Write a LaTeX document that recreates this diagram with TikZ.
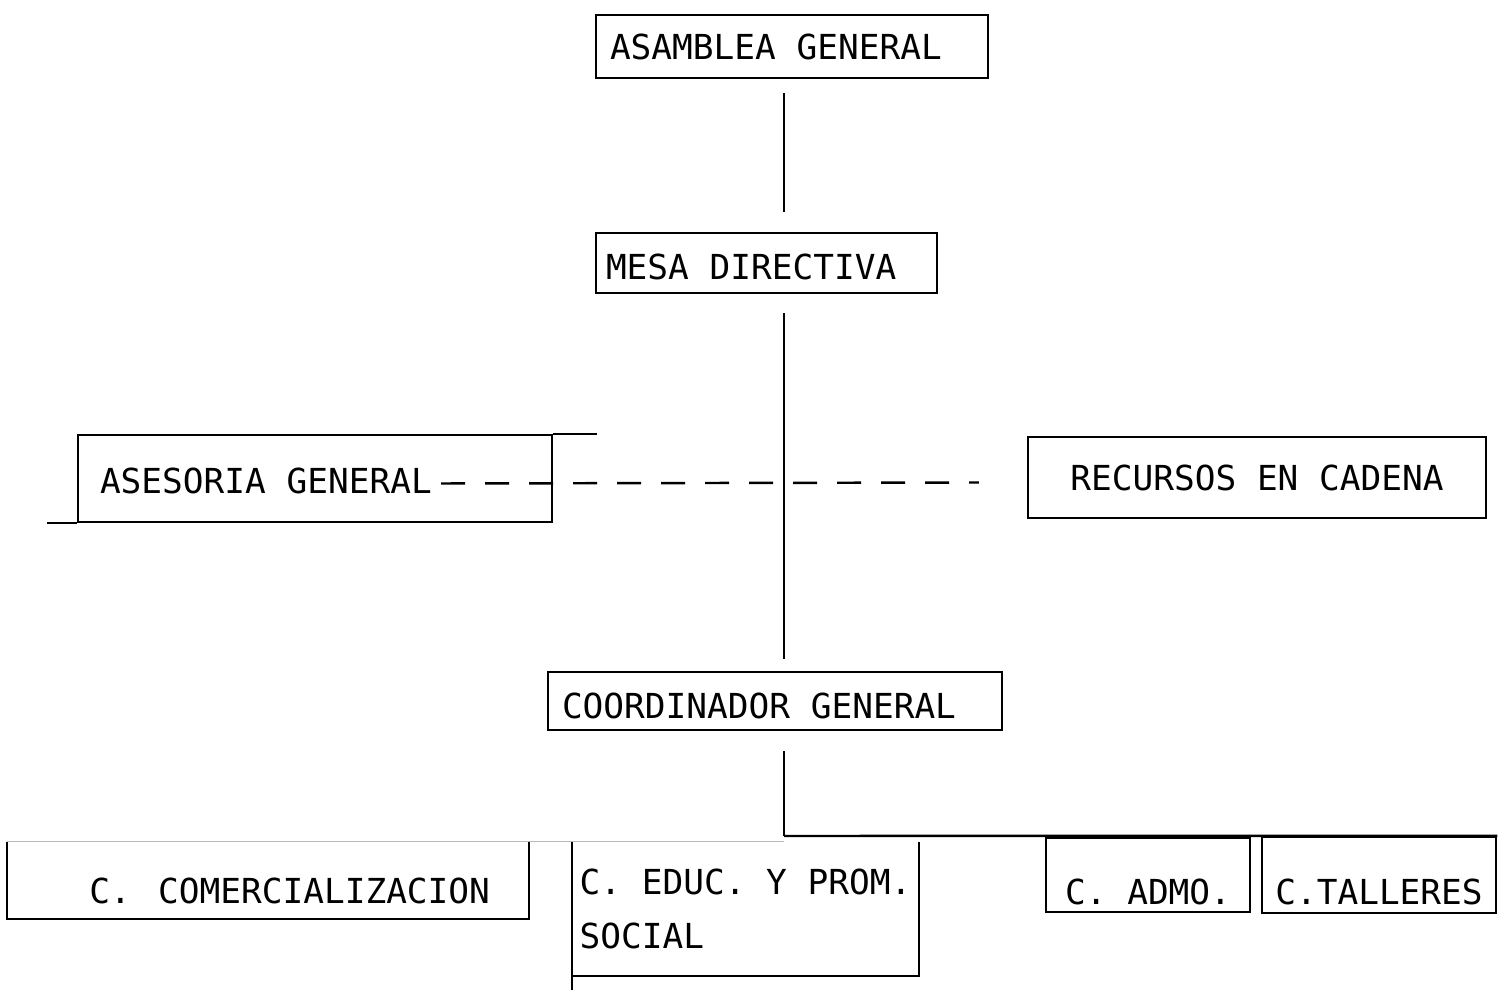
\documentclass[tikz,border=0pt]{standalone}
\usepackage{fontspec}
\newfontfamily\typefont{DejaVu Sans Mono}
\usetikzlibrary{calc, positioning}

\tikzset{
	orgbox/.style={draw, rectangle, line width=0.7pt, inner ysep=0pt,
		font=\typefont\fontsize{9.8}{15.6}\selectfont,
		execute at begin node={\frenchspacing\spaceskip=0pt\xspaceskip=0pt}},
	openbox/.style={orgbox, draw=none},
	orgline/.style={line width=0.7pt}
}

\begin{document}
\begin{tikzpicture}[x=0.1mm, y=-0.1mm]
			\useasboundingbox (0,0) rectangle (1506,990);
			\pgfmathsetmacro{\spinex}{784}
			\pgfmathsetmacro{\busy}{836}
			% Boxes
			\node[orgbox, minimum width=39.2mm, minimum height=6.3mm, inner xsep=1.4mm, text width=36.4mm, align=left] (ag) at (792,46.5) {ASAMBLEA GENERAL};
			\node[orgbox, minimum width=34.1mm, minimum height=6mm, inner xsep=1mm, text width=32.1mm, align=left, text height=9.4pt, text depth=0pt] (md) at (766.5,263) {MESA DIRECTIVA};
			\node[orgbox, minimum width=47.4mm, minimum height=8.7mm, inner xsep=2.2mm, text width=43mm, align=left, text height=8.5pt, text depth=0pt] (ase) at (315,478.5) {ASESORIA GENERAL};
			\node[orgbox, minimum width=45.8mm, minimum height=8.1mm] (rec) at (1257,477.5) {RECURSOS EN CADENA};
			\node[orgbox, minimum width=45.4mm, minimum height=5.8mm, inner xsep=1.4mm, text width=42.6mm, align=left, text height=10pt, text depth=0pt] (cg) at (775,701) {COORDINADOR GENERAL};
			\node[openbox, minimum width=52mm, minimum height=7.5mm, inner xsep=3.8mm, text width=44.4mm, align=right, text height=13.3pt, text depth=0pt] (com) at (268,880.5) {C. COMERCIALIZACION};
			\node[openbox, minimum width=34.5mm, minimum height=13.2mm, inner xsep=0.5mm, align=left] (edu) at (745.5,909) {C. EDUC. Y PROM.\\SOCIAL};
			\node[orgbox, minimum width=20.4mm, minimum height=7.4mm, text height=17pt, text depth=0pt] (adm) at (1148,875) {C. ADMO.};
			\node[orgbox, minimum width=23.4mm, minimum height=7.6mm, text height=17pt, text depth=0pt] (tal) at (1379,875) {C.TALLERES};
			\coordinate (bus) at (\spinex,\busy);
			
			% Open boxes of the bottom row
			\draw[orgline] (com.north west) -- (com.south west) -- (com.south east) -- (com.north east);
			\draw[orgline] (edu.north west) -- ([yshift=-1.5mm]edu.south west);
			\draw[orgline] (edu.south west) -- (edu.south east) -- (edu.north east);
			\draw[gray!55, line width=0.4pt] (com.north west) -- (com.north west -| bus);
			
			% Spine
			\draw[orgline, shorten <=1.4mm, shorten >=2mm] (ag.south -| bus) -- (md.north -| bus);
			\draw[orgline, shorten <=1.9mm, shorten >=1.2mm] (md.south -| bus) -- (cg.north -| bus);
			\draw[orgline, shorten <=2mm] (cg.south -| bus) -- (bus);
			\draw[orgline] (bus) -- (tal.north east);
			
			% Staff link
			\draw[orgline, dash pattern=on 2.4mm off 2mm] ([xshift=-11.2mm, yshift=-0.5mm]ase.east) -- ([xshift=-4.8mm, yshift=-0.5mm]rec.west);
			\draw[orgline] (ase.north east) -- ++(44,0);
			\draw[orgline] (ase.south west) -- ++(-30,0);
			
		\end{tikzpicture}
\end{document}
